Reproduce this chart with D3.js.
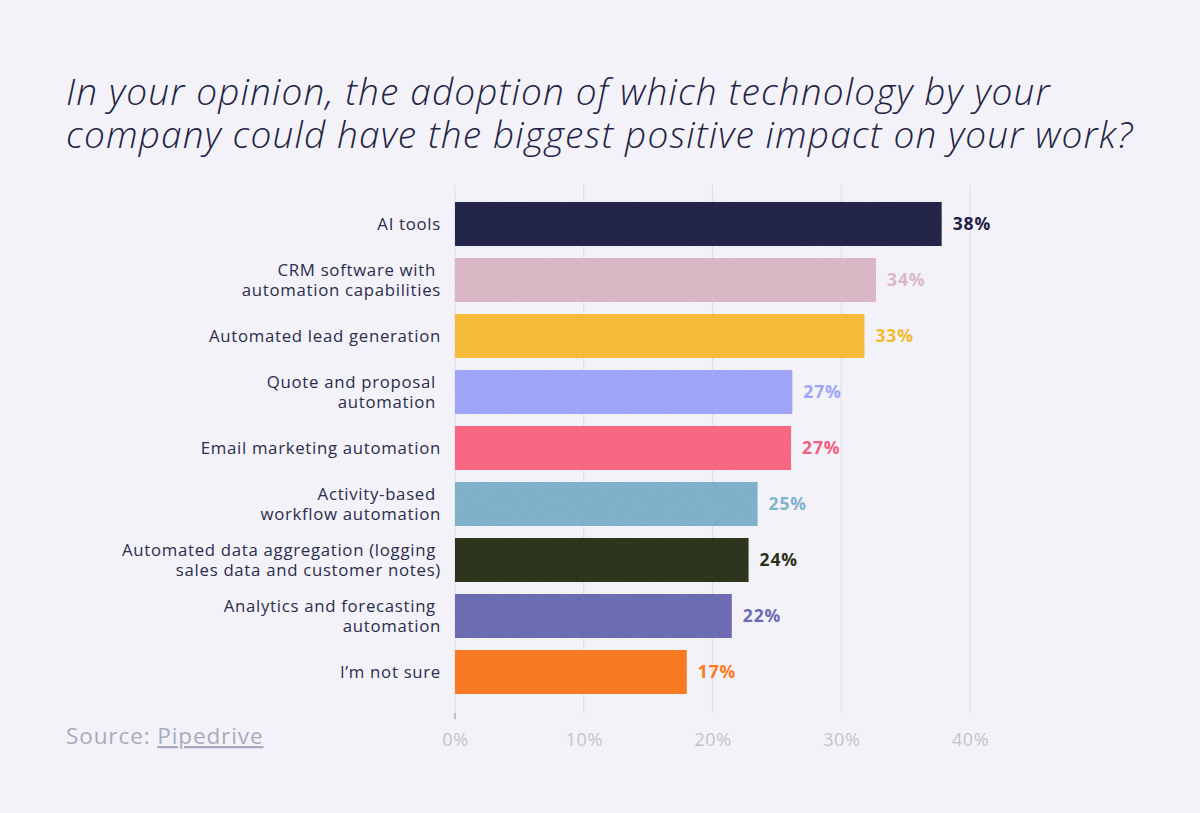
<!DOCTYPE html>
<html>
<head>
<meta charset="utf-8">
<script src="https://cdn.jsdelivr.net/npm/d3@7"></script>
<style>
  html, body { margin: 0; padding: 0; background: #f3f2f8; }
  svg { display: block; }
</style>
</head>
<body>
<svg id="chart" width="1200" height="813"></svg>
<script>
const categories = [
  ["AI tools"],
  ["CRM software with ", "automation capabilities"],
  ["Automated lead generation"],
  ["Quote and proposal ", "automation "],
  ["Email marketing automation"],
  ["Activity-based ", "workflow automation"],
  ["Automated data aggregation (logging ", "sales data and customer notes)"],
  ["Analytics and forecasting ", "automation"],
  ["I\u2019m not sure"]
];
const values = [37.8, 32.7, 31.8, 26.2, 26.1, 23.5, 22.8, 21.5, 18.0];
const valueLabels = ["38%", "34%", "33%", "27%", "27%", "25%", "24%", "22%", "17%"];
const colors = ["#1d2046", "#dfbac8", "#fcc035", "#a3a7ff", "#ff6683", "#80b4cf", "#283117", "#6d6bb5", "#ff7b1d"];
const labelColors = ["#1e2147", "#dbb7c5", "#f5b92f", "#a1a5fc", "#f2607d", "#80b3cd", "#293218", "#6d6bb3", "#ff7a1f"];
const ticks = [0, 10, 20, 30, 40];
const title = ["In your opinion, the adoption of which technology by your",
               "company could have the biggest positive impact on your work?"];

const svg = d3.select("#chart");
const font = "'Open Sans', 'Noto Sans', sans-serif";

svg.append("rect").attr("width", 1200).attr("height", 813).attr("fill", "#f3f2f8");

const defs = svg.append("defs");
const f = defs.append("filter").attr("id", "grain").attr("x", 0).attr("y", 0).attr("width", 1).attr("height", 1)
  .attr("color-interpolation-filters", "sRGB");
f.append("feTurbulence").attr("type", "fractalNoise").attr("baseFrequency", 0.9).attr("numOctaves", 2).attr("seed", 3).attr("result", "noise");
f.append("feColorMatrix").attr("in", "noise").attr("type", "matrix")
  .attr("values", "1 0 0 0 0  1 0 0 0 0  1 0 0 0 0  0 0 0 0 0.06").attr("result", "n2");
f.append("feComposite").attr("in", "n2").attr("in2", "SourceGraphic").attr("operator", "in").attr("result", "n3");
f.append("feMerge").selectAll("feMergeNode").data(["SourceGraphic", "n3"]).join("feMergeNode").attr("in", d => d);

const axisGrad = defs.append("linearGradient").attr("id", "axisfade").attr("x1", 0).attr("x2", 1).attr("y1", 0).attr("y2", 0);
axisGrad.append("stop").attr("offset", "0%").attr("stop-color", "#9aa2ae");
axisGrad.append("stop").attr("offset", "85%").attr("stop-color", "#9aa2ae");
axisGrad.append("stop").attr("offset", "100%").attr("stop-color", "#9aa2ae").attr("stop-opacity", 0.1);

// title
svg.append("g").selectAll("text").data(title).join("text")
  .attr("x", 66).attr("y", (d, i) => 105 + i * 43)
  .attr("font-family", font).attr("font-style", "italic").attr("font-weight", 300)
  .attr("font-size", 37).attr("letter-spacing", 1.15).attr("fill", "#1f2445")
  .text(d => d);

const x = d3.scaleLinear().domain([0, 40]).range([455, 970]);
const y = d3.scaleBand().domain(d3.range(categories.length)).range([196, 700]).paddingInner(0.214).paddingOuter(0.107);

// gridlines
svg.append("g").selectAll("line").data(ticks).join("line")
  .attr("x1", d => x(d)).attr("x2", d => x(d))
  .attr("y1", 185).attr("y2", 713)
  .attr("stroke", "#e0dfe7").attr("stroke-width", 1.2);

// bars
svg.append("g").selectAll("rect").data(values).join("rect")
  .attr("x", x(0)).attr("y", (d, i) => y(i))
  .attr("width", d => x(d) - x(0)).attr("height", y.bandwidth())
  .attr("fill", (d, i) => colors[i])
  .attr("filter", "url(#grain)");

// value labels
svg.append("g").selectAll("text").data(values).join("text")
  .attr("x", d => x(d) + 11).attr("y", (d, i) => y(i) + y.bandwidth() / 2)
  .attr("dy", "0.35em")
  .attr("font-family", font).attr("font-weight", 700).attr("font-size", 17.5).attr("letter-spacing", 0.9)
  .attr("fill", (d, i) => labelColors[i])
  .text((d, i) => valueLabels[i]);

// category labels (one text per line)
const catG = svg.append("g");
categories.forEach((lines, i) => {
  const cy = y(i) + y.bandwidth() / 2;
  const n = lines.length;
  lines.forEach((ln, j) => {
    catG.append("text")
      .attr("x", 441).attr("y", cy + (j - (n - 1) / 2) * 20)
      .attr("dy", "0.35em")
      .attr("text-anchor", "end")
      .style("white-space", "pre")
      .attr("font-family", font).attr("font-size", 16.8).attr("letter-spacing", 0.7)
      .attr("fill", "#2a2d4c")
      .text(ln);
  });
});

// x axis
const axis = d3.axisBottom(x).tickValues(ticks).tickFormat(d => d + "%").tickSize(0).tickPadding(20);
const gx = svg.append("g").attr("transform", "translate(0,713)").call(axis);
gx.select(".domain").remove();
gx.selectAll("text").attr("font-family", font).attr("font-size", 18).attr("letter-spacing", 0.6).attr("fill", "#c3c3cc");
svg.append("line").attr("x1", x(0)).attr("x2", 1020).attr("y1", 713).attr("y2", 713)
  .attr("stroke", "url(#axisfade)").attr("stroke-width", 1.3);
svg.append("line").attr("x1", x(0)).attr("x2", x(0)).attr("y1", 713).attr("y2", 719)
  .attr("stroke", "#9aa2ae").attr("stroke-width", 1.2);

// source
const src = svg.append("text").attr("x", 66).attr("y", 744)
  .attr("font-family", font).attr("font-size", 22.5).attr("letter-spacing", 0.9).attr("fill", "#a9abbf");
src.append("tspan").text("Source: ");
src.append("tspan").attr("text-decoration", "underline").text("Pipedrive");
</script>
</body>
</html>
